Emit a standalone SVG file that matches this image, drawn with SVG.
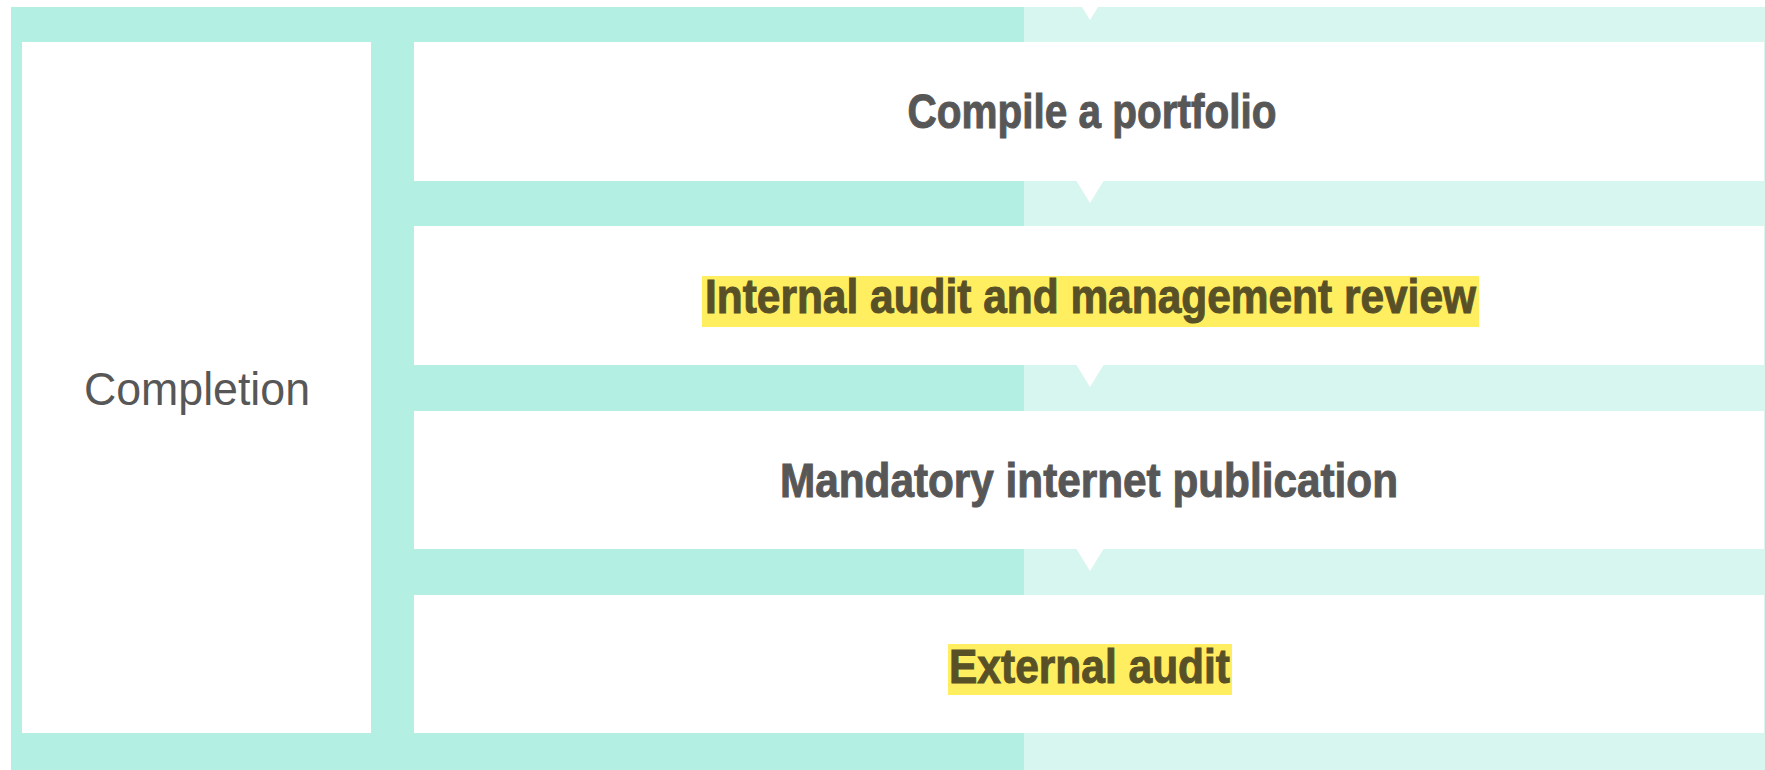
<svg xmlns="http://www.w3.org/2000/svg" width="1765" height="770" viewBox="0 0 1765 770">
  <style>
    .box { fill: #ffffff; }
    .step { font-family: "Liberation Sans Narrow", "Liberation Sans", Arial, sans-serif; font-weight: bold; font-size: 49px; fill: #575757; stroke: #575757; stroke-width: 1; text-anchor: middle; }
    .hl-text { fill: #585027; stroke: #585027; }
    .hl { fill: #ffee60; }
    .phase { font-family: "Liberation Sans", Arial, sans-serif; font-size: 46px; fill: #575757; text-anchor: middle; }
    .ptr { fill: #ffffff; }
  </style>
  <rect width="1765" height="770" fill="#ffffff"/>
  <g id="background">
    <rect x="11" y="7" width="1013" height="763" fill="#b3efe3"/>
    <rect x="1024" y="7" width="741" height="763" fill="#d7f6ef"/>
  </g>
  <g id="connectors">
    <polygon class="ptr" points="1076.5,-2 1103.5,-2 1090,20"/>
    <polygon class="ptr" points="1076.5,181 1103.5,181 1090,203"/>
    <polygon class="ptr" points="1076.5,365 1103.5,365 1090,387"/>
    <polygon class="ptr" points="1076.5,549 1103.5,549 1090,571"/>
  </g>
  <g id="completion">
    <rect class="box" x="22" y="42" width="349" height="691"/>
    <text class="phase" x="197" y="405" textLength="226" lengthAdjust="spacingAndGlyphs">Completion</text>
  </g>
  <g id="compile-portfolio">
    <rect class="box" x="414" y="42" width="1350" height="139"/>
    <text class="step" x="1092" y="128" textLength="369" lengthAdjust="spacingAndGlyphs">Compile a portfolio</text>
  </g>
  <g id="internal-audit">
    <rect class="box" x="414" y="226" width="1350" height="139"/>
    <rect class="hl" x="702" y="276" width="777" height="51"/>
    <text class="step hl-text" x="1090.5" y="313" textLength="771" lengthAdjust="spacingAndGlyphs">Internal audit and management review</text>
  </g>
  <g id="internet-publication">
    <rect class="box" x="414" y="411" width="1350" height="138"/>
    <text class="step" x="1089" y="497" textLength="618" lengthAdjust="spacingAndGlyphs">Mandatory internet publication</text>
  </g>
  <g id="external-audit">
    <rect class="box" x="414" y="595" width="1350" height="138"/>
    <rect class="hl" x="948" y="644" width="284" height="51"/>
    <text class="step hl-text" x="1089.5" y="683" textLength="281" lengthAdjust="spacingAndGlyphs">External audit</text>
  </g>
</svg>
